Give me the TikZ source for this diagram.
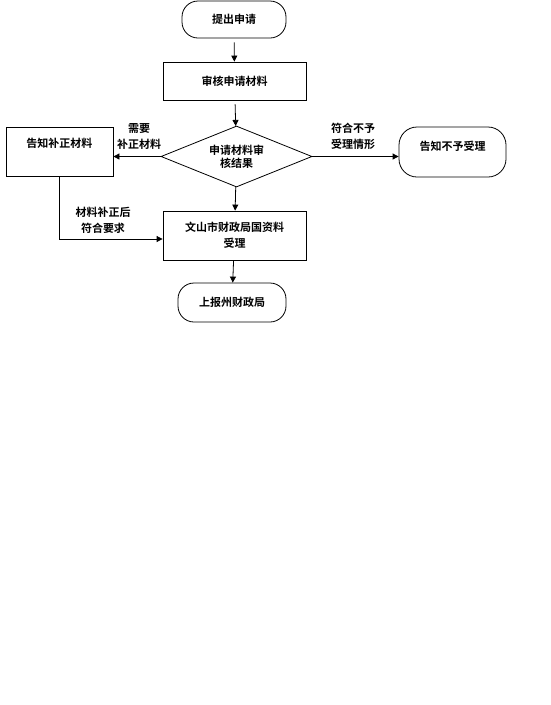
\documentclass[tikz,border=0pt]{standalone}
\usepackage{fontspec}
\newfontfamily\cjk{Noto Sans CJK SC}[UprightFont=* Bold]
\usetikzlibrary{positioning,arrows.meta,shapes.geometric}
\tikzset{
  procbox/.style={draw,thick,fill=white,inner sep=0pt,minimum width=143pt,minimum height=38pt,align=center},
  termbox/.style={draw,thick,fill=white,rounded corners=16pt,inner sep=0pt,minimum width=104pt,minimum height=37pt,align=center},
  decbox/.style={draw,thick,fill=white,diamond,aspect=2.5,inner sep=0pt,minimum width=151pt,minimum height=61pt,align=center},
  flowlabel/.style={align=center,inner sep=0pt},
  arr/.style={-{Triangle[length=6pt,width=6pt]},thick}
}

\begin{document}
\begin{tikzpicture}[x=1pt,y=-1pt,every node/.style={font=\cjk\fontsize{11}{16}\selectfont}]
  \useasboundingbox (0,0) rectangle (551,705);
  % main column
  \node[termbox] (apply) at (234,19.5) {提出申请};
  \node[procbox] (review) at (234.5,81) {审核申请材料};
  \node[decbox,font=\cjk\fontsize{11}{13.5}\selectfont] (check) at (236.5,156.5) {申请材料审\\核结果};
  \node[procbox,minimum height=49pt] (accept) at (234.5,235.5) {文山市财政局国资料\\受理};
  \node[termbox,minimum width=108pt,minimum height=39pt] (report) at (232,302.5) {上报州财政局};
  % side branches
  \node[procbox,minimum width=107pt,minimum height=49pt,text height=20pt,text depth=29pt] (supply) at (59.5,151.5) {告知补正材料};
  \node[termbox,minimum width=107pt,minimum height=50pt,rounded corners=18pt,text height=23pt,text depth=27pt] (refuse) at (452.5,152) {告知不予受理};
  % labels
  \node[flowlabel] (lblneed) at (139,136) {需要\\补正材料};
  \node[flowlabel] (lblrefuse) at (353,136) {符合不予\\受理情形};
  \node[flowlabel] (lblfixed) at (103,220) {材料补正后\\符合要求};
  % connectors
  \draw[arr,shorten <=4pt] (apply) -- (review);
  \draw[arr,shorten <=4pt] (review) -- (check);
  \draw[arr] (check) -- (accept);
  \draw[arr] (accept) -- (report);
  \draw[arr] (check.west) -- (check.west -| supply.east);
  \draw[arr] (check.east) -- (check.east -| refuse.west);
  \draw[arr] (supply.south) |- ([yshift=-3.5pt]accept.west);
\end{tikzpicture}
\end{document}
